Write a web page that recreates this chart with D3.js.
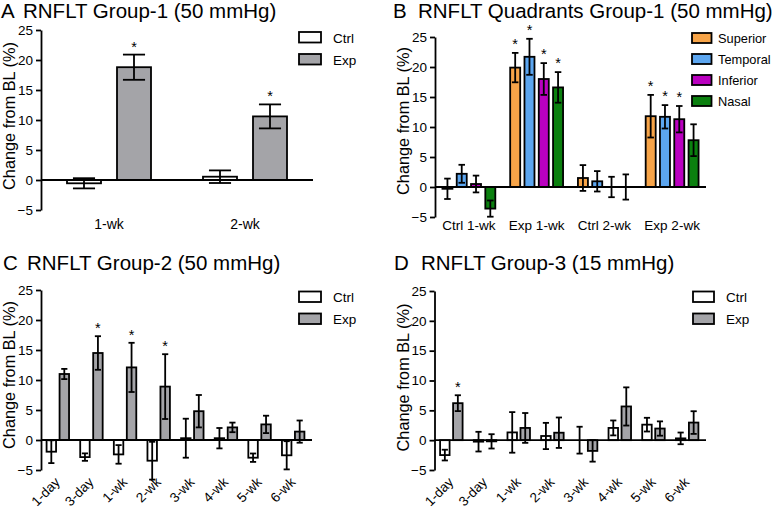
<!DOCTYPE html>
<html><head><meta charset="utf-8">
<script src="https://cdn.jsdelivr.net/npm/d3@7"></script>
<style>
body{margin:0;background:#fff}
svg{display:block}
text{font-family:"Liberation Sans",Arial,Helvetica,sans-serif;fill:#000}
</style>
</head><body>
<svg id="chart" width="772" height="508"></svg>
<script>
// ---------- DATA ----------
const yTicks = [-5, 0, 5, 10, 15, 20, 25];

// Panel A
const catA = ["1-wk", "2-wk"];
const ctrlA = [-0.55, 0.55];
const ctrlErrA = [0.85, 1.05];
const expA = [18.8, 10.6];
const expErrA = [2.1, 2.0];
const ctrlSigA = [false, false];
const expSigA = [true, true];

// Panel B
const catB = ["Ctrl 1-wk", "Exp 1-wk", "Ctrl 2-wk", "Exp 2-wk"];
const superiorB = [-0.3, 19.9, 1.5, 11.8];
const superiorErrB = [1.7, 2.45, 2.15, 3.55];
const temporalB = [2.2, 21.7, 0.95, 11.7];
const temporalErrB = [1.5, 3.0, 1.7, 1.95];
const inferiorB = [0.5, 18.0, 0.0, 11.3];
const inferiorErrB = [1.4, 2.65, 1.7, 2.2];
const nasalB = [-3.6, 16.6, 0.0, 7.8];
const nasalErrB = [1.35, 2.55, 2.1, 2.65];
const superiorSigB = [false, true, false, true];
const temporalSigB = [false, true, false, true];
const inferiorSigB = [false, true, false, true];
const nasalSigB = [false, true, false, false];

// Panel C
const catC = ["1-day", "3-day", "1-wk", "2-wk", "3-wk", "4-wk", "5-wk", "6-wk"];
const ctrlC = [-1.95, -2.85, -2.4, -3.45, 0.3, 0.3, -2.95, -2.55];
const ctrlErrC = [1.9, 0.62, 1.55, 3.15, 3.25, 1.7, 0.7, 2.35];
const expC = [11.0, 14.5, 12.1, 8.9, 4.8, 2.1, 2.6, 1.4];
const expErrC = [0.85, 2.8, 4.1, 5.4, 2.7, 0.8, 1.45, 1.85];
const ctrlSigC = [false, false, false, false, false, false, false, false];
const expSigC = [false, true, true, true, false, false, false, false];

// Panel D
const catD = ["1-day", "3-day", "1-wk", "2-wk", "3-wk", "4-wk", "5-wk", "6-wk"];
const ctrlD = [-2.5, -0.25, 1.3, 0.7, 0.0, 2.05, 2.6, 0.3];
const ctrlErrD = [0.9, 1.65, 3.4, 2.2, 2.25, 1.25, 1.15, 0.98];
const expD = [6.2, -0.2, 2.05, 1.25, -1.8, 5.65, 1.95, 2.95];
const expErrD = [1.33, 1.2, 2.5, 2.55, 1.8, 3.2, 1.2, 1.9];
const ctrlSigD = [false, false, false, false, false, false, false, false];
const expSigD = [true, false, false, false, false, false, false, false];

// ---------- DRAWING ----------
const svg = d3.select("#chart");
const SW = 1.8;

function panel(cfg) {
  const g = svg.append("g");
  // title
  g.append("text").attr("x", cfg.letterX).attr("y", cfg.titleY)
    .style("font-size", "20.5px").text(cfg.letter);
  g.append("text").attr("x", cfg.titleX).attr("y", cfg.titleY)
    .style("font-size", "20.5px").text(cfg.title);

  const y = d3.scaleLinear().domain([-5, 25]).range([cfg.yBot, cfg.yTop]);
  const x = d3.scaleBand().domain(cfg.categories).range([cfg.x0, cfg.x1]);
  const xi = d3.scaleBand().domain(cfg.series.map(s => s.name))
    .range([0, x.bandwidth()]).paddingInner(cfg.pi).paddingOuter(cfg.po);
  const bw = xi.bandwidth();
  const cap = bw * 0.65;

  // bars
  cfg.series.forEach(s => {
    const sg = g.append("g");
    sg.selectAll("rect").data(s.values).enter().append("rect")
      .attr("x", (d, i) => x(cfg.categories[i]) + xi(s.name))
      .attr("y", d => y(Math.max(0, d)))
      .attr("width", bw)
      .attr("height", d => Math.abs(y(d) - y(0)))
      .attr("fill", s.color).attr("stroke", "#000").attr("stroke-width", SW);
  });
  // zero line
  g.append("line").attr("x1", cfg.x0).attr("x2", cfg.zeroEnd)
    .attr("y1", y(0)).attr("y2", y(0)).attr("stroke", "#000").attr("stroke-width", SW);
  // error bars + stars
  cfg.series.forEach(s => {
    const eg = g.append("g").attr("stroke", "#000").attr("stroke-width", SW);
    s.values.forEach((v, i) => {
      const cx = x(cfg.categories[i]) + xi(s.name) + bw / 2;
      const lo = v - s.errs[i], hi = v + s.errs[i];
      eg.append("line").attr("x1", cx).attr("x2", cx).attr("y1", y(lo)).attr("y2", y(hi));
      eg.append("line").attr("x1", cx - cap / 2).attr("x2", cx + cap / 2).attr("y1", y(lo)).attr("y2", y(lo));
      eg.append("line").attr("x1", cx - cap / 2).attr("x2", cx + cap / 2).attr("y1", y(hi)).attr("y2", y(hi));
      if (s.sig[i]) {
        g.append("text").attr("x", cx).attr("y", y(hi) - cfg.starGap)
          .attr("text-anchor", "middle").style("font-size", "14.5px").text("*");
      }
    });
  });

  // y axis
  const ax = g.append("g").attr("transform", `translate(${cfg.x0},0)`)
    .call(d3.axisLeft(y).tickValues(yTicks).tickSize(5).tickSizeOuter(0).tickPadding(3));
  ax.selectAll("path,line").attr("stroke", "#000").attr("stroke-width", SW);
  ax.selectAll("text").style("font-size", "13.5px")
    .style("font-family", '"Liberation Sans",Arial,sans-serif').attr("fill", "#000");

  // y label
  g.append("text")
    .attr("transform", `translate(${cfg.ylabelX},${(cfg.yTop + cfg.yBot) / 2 + cfg.ylabelDy}) rotate(-90)`)
    .attr("text-anchor", "middle").style("font-size", "16.3px").text("Change from BL (%)");

  // x labels
  cfg.categories.forEach(c => {
    const cx = x(c) + x.bandwidth() / 2;
    if (cfg.rotate) {
      g.append("text").attr("transform", `translate(${cx + 3},${cfg.labelY}) rotate(-45)`)
        .attr("text-anchor", "end").style("font-size", "13.5px").text(c);
    } else {
      g.append("text").attr("x", cx).attr("y", cfg.labelY)
        .attr("text-anchor", "middle").style("font-size", cfg.labelSize).text(c);
    }
  });

  // legend
  cfg.series.forEach((s, i) => {
    const ly = cfg.legY + i * cfg.legStep;
    g.append("rect").attr("x", cfg.legX).attr("y", ly).attr("width", cfg.legW).attr("height", cfg.legH)
      .attr("fill", s.color).attr("stroke", "#000").attr("stroke-width", SW);
    g.append("text").attr("x", cfg.legTextX).attr("y", ly + cfg.legH)
      .style("font-size", cfg.legSize).text(s.name);
  });
}

const WHITE = "#ffffff", GRAY = "#a4a4a8";

panel({
  letter: "A", title: "RNFLT Group-1 (50 mmHg)", letterX: 1, titleX: 23, titleY: 18,
  categories: catA, x0: 41, x1: 313, zeroEnd: 313, yTop: 30, yBot: 210,
  pi: 0.32, po: 0.52, starGap: 3,
  series: [
    {name: "Ctrl", values: ctrlA, errs: ctrlErrA, sig: ctrlSigA, color: WHITE},
    {name: "Exp", values: expA, errs: expErrA, sig: expSigA, color: GRAY}
  ],
  ylabelX: 15, ylabelDy: -4, rotate: false, labelY: 229, labelSize: "14px",
  legX: 299, legY: 32, legW: 22, legH: 10.5, legStep: 22, legTextX: 333, legSize: "13.5px"
});

panel({
  letter: "B", title: "RNFLT Quadrants Group-1 (50 mmHg)", letterX: 393, titleX: 418, titleY: 18,
  categories: catB, x0: 435, x1: 706, zeroEnd: 706, yTop: 37, yBot: 217,
  pi: 0.3, po: 0.52, starGap: 4,
  series: [
    {name: "Superior", values: superiorB, errs: superiorErrB, sig: superiorSigB, color: "#f7a448"},
    {name: "Temporal", values: temporalB, errs: temporalErrB, sig: temporalSigB, color: "#5ca6f0"},
    {name: "Inferior", values: inferiorB, errs: inferiorErrB, sig: inferiorSigB, color: "#ba00c0"},
    {name: "Nasal", values: nasalB, errs: nasalErrB, sig: nasalSigB, color: "#0b800f"}
  ],
  ylabelX: 409, ylabelDy: -6, rotate: false, labelY: 230, labelSize: "13.5px",
  legX: 692, legY: 33, legW: 19.5, legH: 10, legStep: 21, legTextX: 718, legSize: "12.8px"
});

panel({
  letter: "C", title: "RNFLT Group-2 (50 mmHg)", letterX: 3, titleX: 27, titleY: 270,
  categories: catC, x0: 41, x1: 310, zeroEnd: 312, yTop: 290, yBot: 470,
  pi: 0.27, po: 0.43, starGap: 3,
  series: [
    {name: "Ctrl", values: ctrlC, errs: ctrlErrC, sig: ctrlSigC, color: WHITE},
    {name: "Exp", values: expC, errs: expErrC, sig: expSigC, color: GRAY}
  ],
  ylabelX: 15, ylabelDy: -5, rotate: true, labelY: 483,
  legX: 299, legY: 291.5, legW: 22, legH: 10.5, legStep: 22, legTextX: 333, legSize: "13.5px"
});

panel({
  letter: "D", title: "RNFLT Group-3 (15 mmHg)", letterX: 394, titleX: 421, titleY: 270,
  categories: catD, x0: 434.5, x1: 704, zeroEnd: 706, yTop: 291, yBot: 470,
  pi: 0.27, po: 0.43, starGap: 3,
  series: [
    {name: "Ctrl", values: ctrlD, errs: ctrlErrD, sig: ctrlSigD, color: WHITE},
    {name: "Exp", values: expD, errs: expErrD, sig: expSigD, color: GRAY}
  ],
  ylabelX: 409, ylabelDy: -3, rotate: true, labelY: 483,
  legX: 693, legY: 291.5, legW: 21, legH: 10.5, legStep: 22, legTextX: 726, legSize: "13.5px"
});
</script>
</body></html>
